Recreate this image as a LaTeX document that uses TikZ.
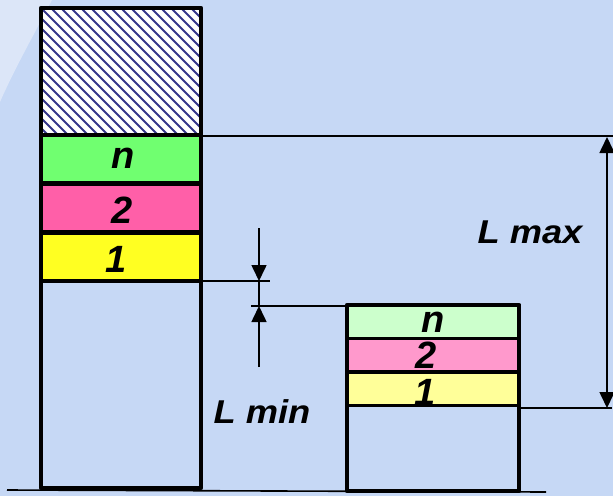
\documentclass[tikz,border=0pt]{standalone}
\usepackage{fontspec}
\setmainfont{Liberation Sans}
\usetikzlibrary{arrows.meta}
\definecolor{bg}{HTML}{C6D8F5}
\definecolor{wedge}{HTML}{DCE6F8}
\definecolor{hatchc}{HTML}{35358A}
\definecolor{gA}{HTML}{70FF70}
\definecolor{pA}{HTML}{FF5FA8}
\definecolor{yA}{HTML}{FFFF22}
\definecolor{gB}{HTML}{CCFFCC}
\definecolor{pB}{HTML}{FF99CC}
\definecolor{yB}{HTML}{FFFF99}
\tikzset{
  layerA/.style={draw=black,line width=4pt,inner sep=0pt,outer sep=0pt,minimum width=160pt,minimum height=48pt},
  layerB/.style={draw=black,line width=3pt,inner sep=0pt,outer sep=0pt,minimum width=172pt,minimum height=33pt},
  frame/.style={draw=black,line width=4.5pt,line join=round},
  dimline/.style={draw=black,line width=1.6pt},
  tip/.style={-{Triangle[width=15pt,length=16pt]}},
  num/.style={font=\fontsize{38}{38}\selectfont\bfseries\itshape,anchor=base,inner sep=0pt},
  dimlabel/.style={font=\fontsize{33}{33}\selectfont\bfseries\itshape,anchor=base,inner sep=0pt,xscale=1.1}
}
\begin{document}
\begin{tikzpicture}[x=1pt,y=-1pt]
\useasboundingbox (0,0) rectangle (613,496);
\fill[bg] (0,0) rectangle (613,496);
\fill[wedge] (0,0) -- (52,0) .. controls (32,38) and (14,70) .. (0,102) -- cycle;
% hatched top block
\fill[white] (41,8) rectangle (201,135);
\begin{scope}
\clip (41,8) rectangle (201,135);
\foreach \i in {-16,...,17} \draw[hatchc,line width=2pt] ({41+\i*10},8) -- ++(140,140);
\end{scope}
% left column layers
\node[layerA,fill=gA] (ln) at (121,159) {};
\node[layerA,fill=pA] (l2) at (121,207.5) {};
\node[layerA,fill=yA] (l1) at (121,256.5) {};
\node[frame,inner sep=0pt,outer sep=0pt,minimum width=160pt,minimum height=480pt] (lcol) at (121,248) {};
% right column layers
\node[layerB,fill=gB] (rn) at (433,321.5) {};
\node[layerB,fill=pB] (r2) at (433,355) {};
\node[layerB,fill=yB] (r1) at (433,388.5) {};
\node[frame,inner sep=0pt,outer sep=0pt,minimum width=172pt,minimum height=186pt] (rcol) at (433,398) {};
% labels
\node[num] (tln) at (123,168) {n};
\node[num] (tl2) at (122,223) {2};
\node[num] (tl1) at (116,272) {1};
\node[num] (trn) at (433,332) {n};
\node[num] (tr2) at (426,368) {2};
\node[num] (tr1) at (425,405) {1};
\node[dimlabel] (lmax) at (530,243) {L max};
\node[dimlabel] (lmin) at (262,423) {L min};
% ground line
\coordinate (g0) at (7,490);
\coordinate (g1) at (546,492);
\draw[line width=1.6pt] (g0) -- (g1);
% L max extension lines and arrow
\coordinate (ea) at (201,136);
\coordinate (eb) at (613,136);
\coordinate (ec) at (521,408);
\coordinate (ed) at (612,408);
\draw[dimline] (ea) -- (eb);
\draw[dimline] (ec) -- (ed);
\coordinate (amid) at (607,270);
\coordinate (atop) at (607,137);
\coordinate (abot) at (607,408);
\draw[dimline,tip] (amid) -- (atop);
\draw[dimline,tip] (amid) -- (abot);
% L min extension lines and arrows
\coordinate (fa) at (201,281);
\coordinate (fb) at (270,281);
\coordinate (fc) at (251,306);
\coordinate (fd) at (347,306);
\draw[dimline] (fa) -- (fb);
\draw[dimline] (fc) -- (fd);
\coordinate (ua) at (259,228);
\coordinate (ub) at (259,281);
\coordinate (uc) at (259,306);
\coordinate (ud) at (259,367);
\draw[dimline,tip] (ua) -- (ub);
\draw[dimline] (ub) -- (uc);
\draw[dimline,tip] (ud) -- (uc);
\end{tikzpicture}
\end{document}
